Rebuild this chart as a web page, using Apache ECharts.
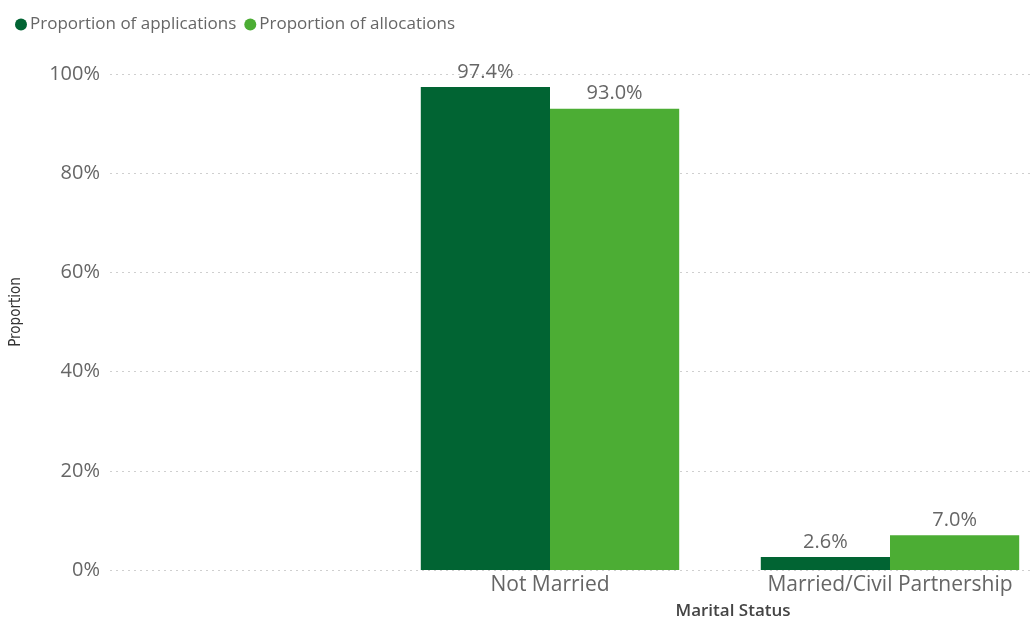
<!DOCTYPE html>
<html>
<head>
<meta charset="utf-8">
<script src="https://cdn.jsdelivr.net/npm/echarts@6/dist/echarts.min.js"></script>
<style>
  html, body { margin: 0; padding: 0; background: #fff; overflow: hidden; }
  #chart { width: 1030px; height: 621px; }
</style>
</head>
<body>
<div id="chart"></div>
<script>
// Marital status: share of applications vs share of allocations (%)
const categories = ['', 'Not Married', 'Married/Civil Partnership'];
const applications = [null, 97.4, 2.6];
const allocations = [null, 93.0, 7.0];
const yTicks = [0, 20, 40, 60, 80, 100];

const FONT = '"Open Sans", "Noto Sans", sans-serif';
const DARK = '#016433';
const LIGHT = '#4cad34';

const chart = echarts.init(document.getElementById('chart'));

const labelStyle = {
  show: true,
  position: 'top',
  distance: 5,
  color: '#666',
  fontSize: 20,
  fontFamily: FONT,
  formatter: p => p.value.toFixed(1) + '%'
};

chart.setOption({
  animation: false,
  legend: {
    left: 10,
    top: 11,
    icon: 'circle',
    itemWidth: 12,
    itemHeight: 12,
    itemGap: 8,
    textStyle: { color: '#666', fontSize: 17, fontFamily: FONT, padding: [0, 0, 0, -2] },
    data: ['Proportion of applications', 'Proportion of allocations']
  },
  title: {
    text: 'Marital Status',
    left: 728,
    top: 598,
    textAlign: 'center',
    textStyle: { color: '#444', fontSize: 17, fontWeight: 600, fontFamily: FONT }
  },
  grid: [
    { left: 110, right: 0, top: 74, bottom: 51 },
    // the category band runs past the right edge, so the last group sits flush with it
    { left: 40, width: 1020, top: 74, bottom: 51, outerBoundsMode: 'none', containLabel: false }
  ],
  xAxis: [
    { type: 'value', gridIndex: 0, show: false, min: 0, max: 1 },
    {
      type: 'category',
      gridIndex: 1,
      data: categories,
      axisLine: { show: false },
      axisTick: { show: false },
      axisLabel: { interval: 0, color: '#666', fontSize: 21, fontFamily: FONT, margin: 5 }
    }
  ],
  yAxis: [
    {
      type: 'value',
      gridIndex: 0,
      min: yTicks[0],
      max: yTicks[yTicks.length - 1],
      interval: 20,
      name: 'Proportion',
      nameLocation: 'middle',
      nameGap: 86,
      nameTextStyle: { color: '#333', fontSize: 15, fontFamily: '"Liberation Sans Narrow", "DejaVu Sans Condensed", sans-serif', padding: [0, 0, 0, 20] },
      axisLine: { show: false },
      axisTick: { show: false },
      axisLabel: { color: '#666', fontSize: 20, fontFamily: FONT, margin: 10, formatter: v => v + '%' },
      splitLine: { lineStyle: { color: '#cfcfcf', type: [2, 4], width: 1 } }
    },
    { type: 'value', gridIndex: 1, min: 0, max: 100, show: false, splitLine: { show: false } }
  ],
  series: [
    {
      name: 'Proportion of applications',
      type: 'bar',
      xAxisIndex: 1,
      yAxisIndex: 1,
      data: applications,
      itemStyle: { color: DARK },
      barGap: '0%',
      barCategoryGap: '24%',
      label: labelStyle
    },
    {
      name: 'Proportion of allocations',
      type: 'bar',
      xAxisIndex: 1,
      yAxisIndex: 1,
      data: allocations,
      itemStyle: { color: LIGHT },
      barGap: '0%',
      barCategoryGap: '24%',
      label: labelStyle
    }
  ]
});
</script>
</body>
</html>
